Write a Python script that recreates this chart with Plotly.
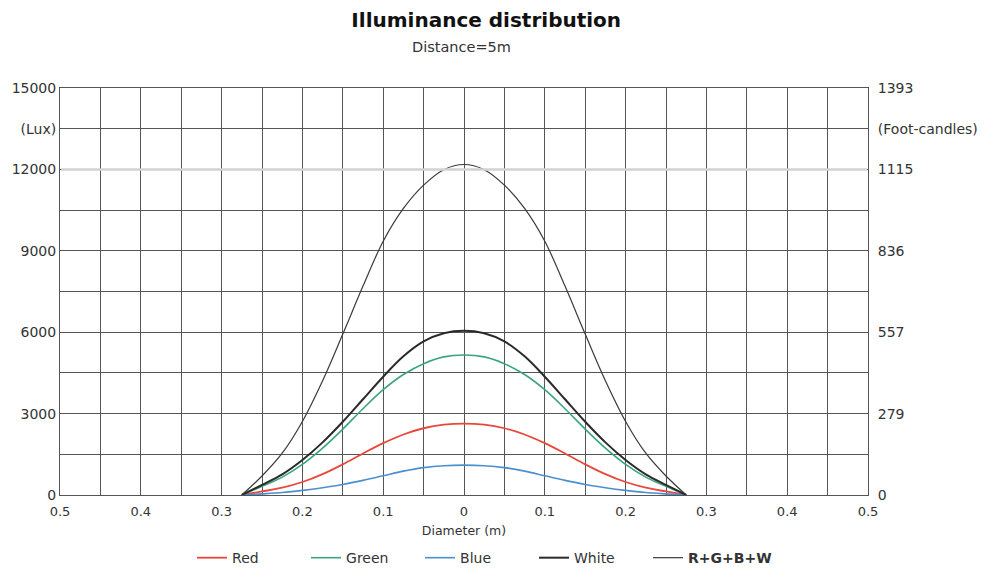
import plotly.graph_objects as go

# Data
diameter = [-0.275, -0.25, -0.225, -0.2, -0.175, -0.15, -0.125, -0.1, -0.075, -0.05, -0.025, 0.0,
            0.025, 0.05, 0.075, 0.1, 0.125, 0.15, 0.175, 0.2, 0.225, 0.25, 0.275]
red = [0, 130, 270, 480, 770, 1130, 1530, 1910, 2230, 2460, 2590, 2630,
       2590, 2460, 2230, 1910, 1530, 1130, 770, 480, 270, 130, 0]
green = [0, 320, 660, 1130, 1730, 2430, 3180, 3880, 4440, 4840, 5090, 5160,
         5090, 4840, 4440, 3880, 3180, 2430, 1730, 1130, 660, 320, 0]
blue = [0, 40, 90, 170, 270, 390, 540, 710, 880, 1010, 1080, 1100,
        1080, 1010, 880, 710, 540, 390, 270, 170, 90, 40, 0]
white = [0, 370, 760, 1290, 1940, 2700, 3530, 4360, 5110, 5660, 5960, 6050,
         5960, 5660, 5110, 4360, 3530, 2700, 1940, 1290, 760, 370, 0]
rgbw = [0, 700, 1540, 2710, 4210, 5930, 7700, 9350, 10560, 11420, 11990, 12180,
        11990, 11420, 10560, 9350, 7700, 5930, 4210, 2710, 1540, 700, 0]

series_names = ["Red", "Green", "Blue", "White", "<b>R+G+B+W</b>"]
series_values = [red, green, blue, white, rgbw]
series_colors = ["#e8473a", "#3aa57a", "#4a8fd0", "#2a2a2a", "#3a3a3a"]
series_widths = [1.8, 1.6, 1.6, 2.0, 1.2]

x_grid = [-0.5, -0.45, -0.4, -0.35, -0.3, -0.25, -0.2, -0.15, -0.1, -0.05, 0.0,
          0.05, 0.1, 0.15, 0.2, 0.25, 0.3, 0.35, 0.4, 0.45, 0.5]
x_labels = ["0.5", "", "0.4", "", "0.3", "", "0.2", "", "0.1", "", "0",
            "", "0.1", "", "0.2", "", "0.3", "", "0.4", "", "0.5"]
y_grid = [0, 1500, 3000, 4500, 6000, 7500, 9000, 10500, 12000, 13500, 15000]
y_left_labels = ["0", "", "3000", "", "6000", "", "9000", "", "12000", "(Lux)", "15000"]
y_right_labels = ["0", "", "279", "", "557", "", "836", "", "1115", "(Foot-candles)", "1393"]
light_grid_level = 12000

FONT = "DejaVu Sans"
fig = go.Figure()
for name, vals, col, w in zip(series_names, series_values, series_colors, series_widths):
    fig.add_trace(go.Scatter(x=diameter, y=vals, mode="lines", name=name,
                             line=dict(color=col, width=w, shape="spline", smoothing=1.0)))

# spacer legend entry (keeps the last legend label from being clipped)
fig.add_trace(go.Scatter(x=[None], y=[None], mode="lines", name=" ", showlegend=True,
                         line=dict(width=0, color="rgba(0,0,0,0)"), hoverinfo="skip"))

# invisible trace for right axis
fig.add_trace(go.Scatter(x=[0], y=[0], yaxis="y2", mode="lines", showlegend=False,
                         line=dict(width=0), hoverinfo="skip"))

fig.update_layout(
    width=982, height=562,
    margin=dict(l=52, r=122, t=80, b=75, autoexpand=False),
    paper_bgcolor="white", plot_bgcolor="white",
    font=dict(family=FONT, size=13, color="#333"),
    title=dict(text="<b>Illuminance distribution</b>", x=0.487, xanchor="center",
               y=0.979, yanchor="middle", font=dict(family=FONT, size=20, color="#111")),
    annotations=[dict(text="Distance=5m", xref="paper", yref="paper", x=0.4975, y=1.10,
                      xanchor="center", yanchor="middle", showarrow=False,
                      font=dict(family=FONT, size=14.5, color="#333"))],
    shapes=[dict(type="line", xref="paper", yref="y", x0=0.0015, x1=0.999,
                 y0=light_grid_level, y1=light_grid_level, layer="above",
                 line=dict(color="#d2d2d2", width=2.5))],
    xaxis=dict(range=[-0.5, 0.5], tickmode="array", tickvals=x_grid, ticktext=x_labels,
               showgrid=True, gridcolor="#555", gridwidth=1, zeroline=False,
               showline=True, linecolor="#555", linewidth=1, mirror=True,
               ticks="", tickfont=dict(size=13), automargin=False, ticklabelstandoff=4,
               title=dict(text="Diameter (m)", standoff=8, font=dict(size=12.5))),
    yaxis=dict(range=[0, 15000], tickmode="array", tickvals=y_grid, ticktext=y_left_labels,
               showgrid=True, gridcolor="#555", gridwidth=1, zeroline=False,
               showline=True, linecolor="#555", linewidth=1, automargin=False,
               ticks="", tickfont=dict(size=14)),
    yaxis2=dict(range=[0, 15000], overlaying="y", side="right", tickmode="array",
                tickvals=y_grid, ticktext=y_right_labels, showgrid=False, zeroline=False,
                showline=True, linecolor="#555", linewidth=1, ticks="", automargin=False,
                ticklabelstandoff=6, tickfont=dict(size=14)),
    legend=dict(orientation="h", x=0.1634, xanchor="left", y=-0.155, yanchor="middle",
                font=dict(size=14, color="#333"), entrywidth=69, entrywidthmode="pixels",
                tracegroupgap=0),
    showlegend=True,
)

fig.write_html("out.html")
